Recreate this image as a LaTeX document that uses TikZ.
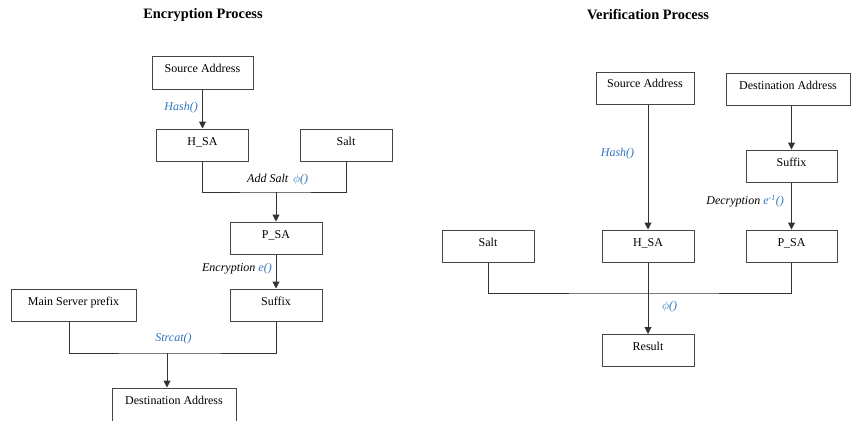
\documentclass[tikz,border=0pt]{standalone}
\usepackage{fontspec}
\setmainfont{Liberation Serif}
\usetikzlibrary{arrows.meta}
\definecolor{fnblue}{RGB}{46,117,190}
\definecolor{boxgray}{RGB}{70,70,70}
\begin{document}
\begin{tikzpicture}[x=1pt,y=-1pt,
  box/.style={draw=boxgray,line width=1pt,rectangle,inner xsep=0pt,inner ysep=0pt,
    text height=16pt,text depth=16pt,font=\fontsize{12}{14}\selectfont},
  conn/.style={draw=black!80,line width=1pt},
  arr/.style={conn,-{Triangle[length=7pt,width=7pt]}},
  fn/.style={inner sep=0pt,font=\fontsize{12}{14}\selectfont\itshape},
  ttl/.style={inner sep=0pt,font=\fontsize{14.4}{16}\selectfont\bfseries}]
\useasboundingbox (0,0) rectangle (864,420);
% titles
\node[ttl] (t1) at (203,15) {Encryption Process};
\node[ttl] (t2) at (648,15) {Verification Process};
% ---------- Encryption ----------
\node[box,minimum width=101pt] (sa1) at (202.5,73) {Source Address};
\node[box,minimum width=92pt] (hsa1) at (202.5,145) {H\_SA};
\node[box,minimum width=92pt] (salt1) at (346,145) {Salt};
\node[box,minimum width=92pt] (psa1) at (276,238) {P\_SA};
\node[box,minimum width=92pt] (suf1) at (276,305) {Suffix};
\node[box,minimum width=125pt] (msp) at (73.5,305) {Main Server prefix};
\node[box,minimum width=124pt,text depth=22pt] (da1) at (174,407) {Destination Address};
\draw[arr] (sa1.south) -- (hsa1.north);
\node[fn,anchor=east] (lh1) at (198,108) {\textcolor{fnblue}{Hash()}};
\coordinate (j1) at (276,192);
\draw[conn] (hsa1.south) |- (j1) -| (salt1.south);
\draw[arr] (j1) -- (psa1.north);
\node[fn,anchor=west] (las) at (247,180) {Add Salt\hspace{5pt}\textcolor{fnblue}{$\phi$()}};
\draw[arr] (psa1.south) -- (suf1.north);
\node[fn,anchor=east] (lenc) at (272,269) {Encryption \textcolor{fnblue}{e()}};
\coordinate (j2) at (167,353);
\draw[conn] (msp.south -| 69,0) |- (j2) -| (suf1.south);
\draw[arr] (j2) -- (da1.north -| j2);
\node[fn,anchor=center] (lsc) at (173.5,339) {\textcolor{fnblue}{Strcat()}};
% ---------- Verification ----------
\node[box,minimum width=98pt] (sa2) at (645,88) {Source Address};
\node[box,minimum width=124pt] (da2) at (788,89) {Destination Address};
\node[box,minimum width=91pt] (suf2) at (791.5,166) {Suffix};
\node[box,minimum width=92pt] (salt2) at (488,246.5) {Salt};
\node[box,minimum width=92pt] (hsa2) at (648,246) {H\_SA};
\node[box,minimum width=91pt] (psa2) at (791.5,246) {P\_SA};
\node[box,minimum width=92pt] (res) at (648,350.5) {Result};
\draw[arr] (sa2.south -| hsa2.north) -- (hsa2.north);
\node[fn,anchor=center] (lh2) at (617.5,154) {\textcolor{fnblue}{Hash()}};
\draw[arr] (da2.south -| suf2.north) -- (suf2.north);
\draw[arr] (suf2.south) -- (psa2.north);
\node[fn,anchor=east] (ldec) at (784,201) {Decryption \textcolor{fnblue}{e\textsuperscript{-1}()}};
\coordinate (j3) at (648,293);
\draw[conn] (salt2.south) |- (j3) -| (psa2.south);
\draw[arr] (hsa2.south) -- (res.north);
\node[fn,anchor=west] (lphi) at (662,307) {\textcolor{fnblue}{$\phi$()}};
\end{tikzpicture}
\end{document}
